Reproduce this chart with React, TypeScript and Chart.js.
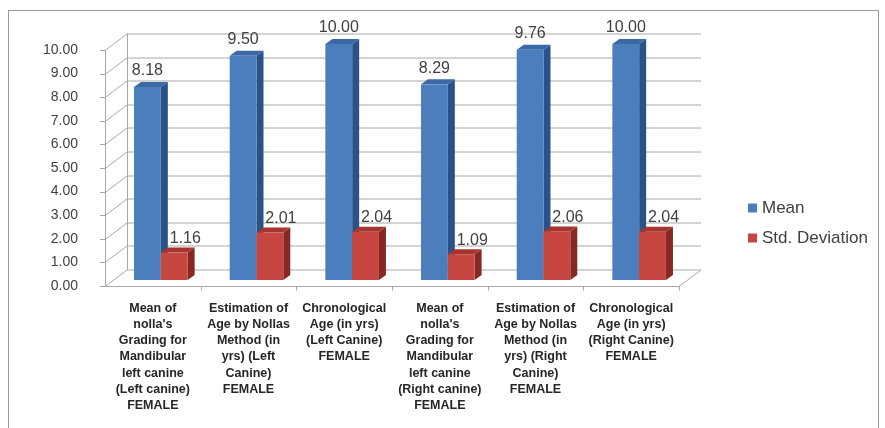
import React, { useEffect, useRef } from "react";
import { Chart, registerables } from "chart.js";

Chart.register(...registerables);

// Category labels (multi-line)
const categories: string[][] = [
  ["Mean of", "nolla's", "Grading for", "Mandibular", "left canine", "(Left canine)", "FEMALE"],
  ["Estimation of", "Age by Nollas", "Method (in", "yrs) (Left", "Canine)", "FEMALE"],
  ["Chronological", "Age (in yrs)", "(Left Canine)", "FEMALE"],
  ["Mean of", "nolla's", "Grading for", "Mandibular", "left canine", "(Right canine)", "FEMALE"],
  ["Estimation of", "Age by Nollas", "Method (in", "yrs) (Right", "Canine)", "FEMALE"],
  ["Chronological", "Age (in yrs)", "(Right Canine)", "FEMALE"],
];

const meanValues: number[] = [8.18, 9.5, 10.0, 8.29, 9.76, 10.0];
const sdValues: number[] = [1.16, 2.01, 2.04, 1.09, 2.06, 2.04];

const seriesNames: string[] = ["Mean", "Std. Deviation"];
const yTickValues: number[] = [0, 1, 2, 3, 4, 5, 6, 7, 8, 9, 10];

// Face colours for the 3D columns: front, top, side
const faceColors = [
  { front: "#4a7ebd", top: "#3b69a6", side: "#2b5287" },
  { front: "#c6473f", top: "#a5352e", side: "#862823" },
];

// Depth of the wall box and of the columns
const WALL = { dx: 22, dy: -16.5 };
const BAR_SHIFT = { dx: 8, dy: -6 };
const BAR_DEPTH = { dx: 7, dy: -5 };
const LABEL_SHIFT = [
  { dx: 0, dy: -16 },
  { dx: 11, dy: -14 },
];

const GRID_COLOR = "#a8a8a8";
const FONT = "'Liberation Sans', Arial, sans-serif";

const threeDPlugin = {
  id: "threeDColumns",
  beforeDraw(chart: any) {
    const ctx = chart.ctx;
    ctx.save();
    ctx.fillStyle = "#ffffff";
    ctx.fillRect(0, 0, chart.width, chart.height);
    ctx.strokeStyle = "#9c9c9c";
    ctx.lineWidth = 1;
    ctx.strokeRect(8.5, 10.5, 870, 440);
    ctx.restore();
  },
  beforeDatasetsDraw(chart: any) {
    const ctx = chart.ctx;
    const { left, right, top, bottom } = chart.chartArea;
    const ys = chart.scales.y;
    const xs = chart.scales.x;

    ctx.save();
    ctx.strokeStyle = GRID_COLOR;
    ctx.lineWidth = 1;
    const line = (x1: number, y1: number, x2: number, y2: number) => {
      ctx.beginPath();
      ctx.moveTo(x1, y1);
      ctx.lineTo(x2, y2);
      ctx.stroke();
    };

    // back wall + side wall gridlines
    yTickValues.forEach((v) => {
      const y = Math.round(ys.getPixelForValue(v)) + 0.5;
      line(left + WALL.dx, y + WALL.dy, right + WALL.dx, y + WALL.dy);
      line(left, y, left + WALL.dx, y + WALL.dy);
      line(left - 5, y, left, y);
    });
    // wall edges
    line(left + 0.5, top, left + 0.5, bottom);
    line(left + WALL.dx + 0.5, top + WALL.dy, left + WALL.dx + 0.5, bottom + WALL.dy);
    // floor
    const fb = Math.round(bottom) + 0.5;
    line(left, fb, right, fb);
    line(right, fb, right + WALL.dx, fb + WALL.dy);
    // category boundary ticks
    const n = categories.length;
    const step = n > 1 ? xs.getPixelForValue(1) - xs.getPixelForValue(0) : right - left;
    for (let i = 1; i <= n; i++) {
      const x = Math.round(xs.getPixelForValue(i - 1) + step / 2) + 0.5;
      line(x, fb, x, fb + 4);
    }

    // columns, drawn category by category so faces overlap correctly
    const metas = chart.data.datasets.map((_: any, d: number) => chart.getDatasetMeta(d));
    for (let i = 0; i < n; i++) {
      metas.forEach((meta: any, d: number) => {
        const el = meta.data[i];
        if (!el) return;
        const { x, y, base, width } = el.getProps(["x", "y", "base", "width"], true);
        const c = faceColors[d];
        const x0 = x - width / 2 + BAR_SHIFT.dx;
        const x1 = x0 + width;
        const yt = y + BAR_SHIFT.dy;
        const yb = base + BAR_SHIFT.dy;
        // side
        ctx.fillStyle = c.side;
        ctx.beginPath();
        ctx.moveTo(x1, yt);
        ctx.lineTo(x1 + BAR_DEPTH.dx, yt + BAR_DEPTH.dy);
        ctx.lineTo(x1 + BAR_DEPTH.dx, yb + BAR_DEPTH.dy);
        ctx.lineTo(x1, yb);
        ctx.closePath();
        ctx.fill();
        // top
        ctx.fillStyle = c.top;
        ctx.beginPath();
        ctx.moveTo(x0, yt);
        ctx.lineTo(x1, yt);
        ctx.lineTo(x1 + BAR_DEPTH.dx, yt + BAR_DEPTH.dy);
        ctx.lineTo(x0 + BAR_DEPTH.dx, yt + BAR_DEPTH.dy);
        ctx.closePath();
        ctx.fill();
        // front
        ctx.fillStyle = c.front;
        ctx.fillRect(x0, yt, width, yb - yt);
      });
    }

    // value labels
    ctx.fillStyle = "#404040";
    ctx.font = `16px ${FONT}`;
    ctx.textAlign = "center";
    ctx.textBaseline = "middle";
    metas.forEach((meta: any, d: number) => {
      const values = chart.data.datasets[d].data as number[];
      meta.data.forEach((el: any, i: number) => {
        const { x, y } = el.getProps(["x", "y"], true);
        ctx.fillText(
          values[i].toFixed(2),
          x + BAR_SHIFT.dx + LABEL_SHIFT[d].dx,
          y + BAR_SHIFT.dy + LABEL_SHIFT[d].dy
        );
      });
    });

    // legend
    ctx.font = `17px ${FONT}`;
    ctx.textAlign = "left";
    chart.data.datasets.forEach((ds: any, d: number) => {
      const yc = 208 + d * 30;
      ctx.fillStyle = faceColors[d].front;
      ctx.fillRect(748, yc - 4.5, 9, 9);
      ctx.fillStyle = "#404040";
      ctx.fillText(ds.label, 762, yc + 0.5);
    });

    ctx.restore();
    return false;
  },
};

export default function App() {
  const canvasRef = useRef<HTMLCanvasElement | null>(null);

  useEffect(() => {
    if (!canvasRef.current) return;
    const chart = new Chart(canvasRef.current, {
      type: "bar",
      data: {
        labels: categories,
        datasets: [
          {
            label: seriesNames[0],
            data: meanValues,
            backgroundColor: faceColors[0].front,
            categoryPercentage: 0.56,
            barPercentage: 1,
          },
          {
            label: seriesNames[1],
            data: sdValues,
            backgroundColor: faceColors[1].front,
            categoryPercentage: 0.56,
            barPercentage: 1,
          },
        ],
      },
      options: {
        responsive: false,
        animation: false,
        layout: { padding: { left: 0, right: 206, top: 50, bottom: 0 } },
        plugins: {
          legend: { display: false },
          tooltip: { enabled: false },
        },
        scales: {
          x: {
            grid: { display: false, drawTicks: false },
            border: { display: false },
            ticks: {
              autoSkip: false,
              maxRotation: 0,
              minRotation: 0,
              padding: 14,
              color: "#262626",
              font: { family: FONT, size: 12.5, weight: "bold", lineHeight: 1.3 },
            },
            afterFit: (s: any) => {
              s.height = 142;
            },
          },
          y: {
            min: 0,
            max: 10,
            grid: { display: false, drawTicks: false },
            border: { display: false },
            ticks: {
              stepSize: 1,
              padding: 27,
              color: "#404040",
              font: { family: FONT, size: 14 },
              callback: (v: any) => Number(v).toFixed(2),
            },
            afterFit: (s: any) => {
              s.width = 105;
            },
          },
        },
      },
      plugins: [threeDPlugin],
    });
    return () => chart.destroy();
  }, []);

  return (
    <div style={{ position: "fixed", left: 0, top: 0, width: 885, height: 428 }}>
      <canvas ref={canvasRef} width={885} height={428} style={{ display: "block" }} />
    </div>
  );
}
